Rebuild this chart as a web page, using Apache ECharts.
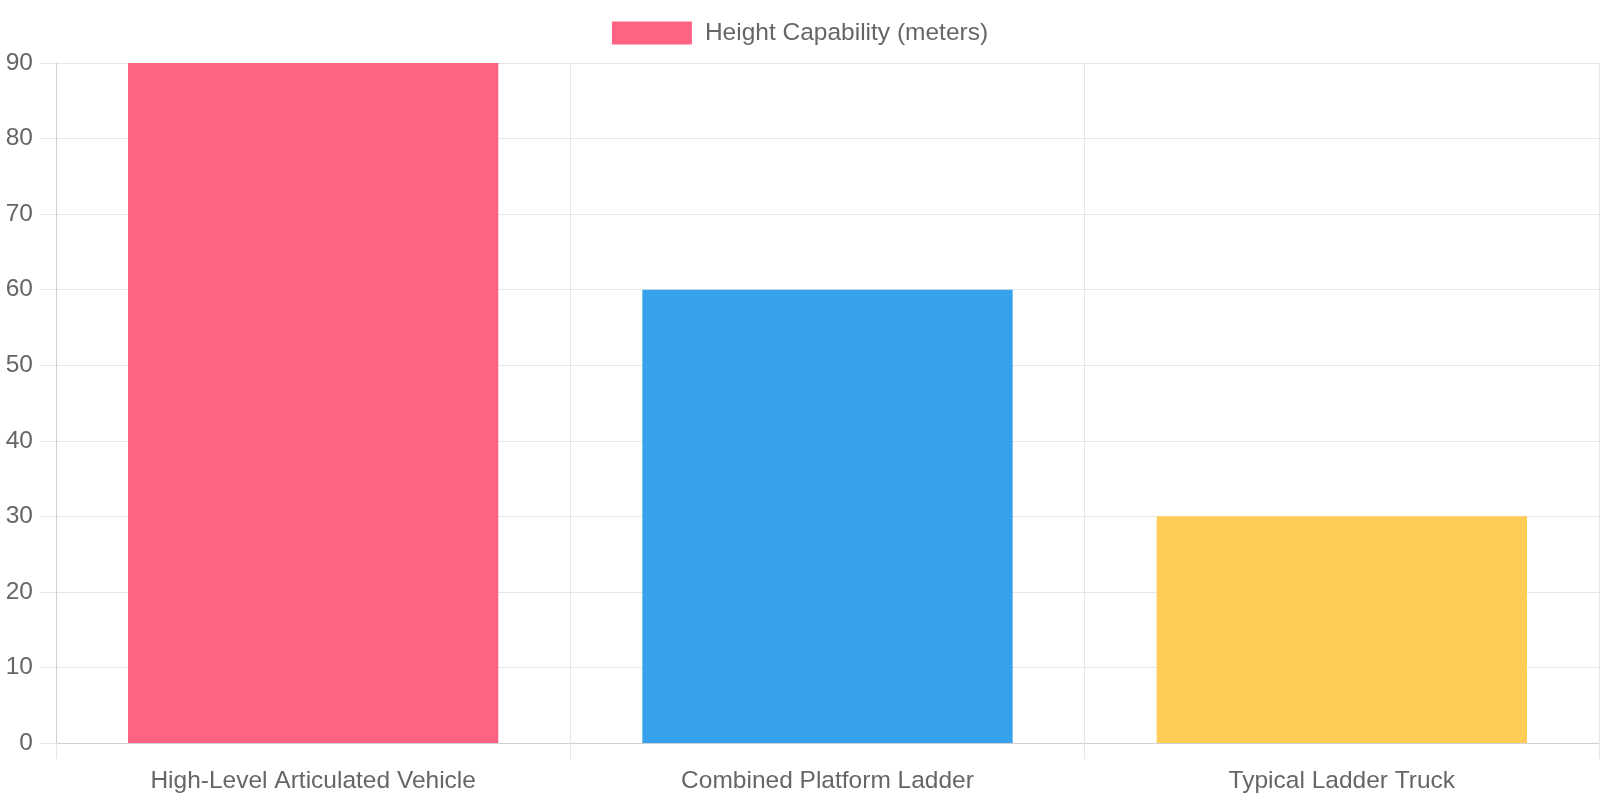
<!DOCTYPE html>
<html>
<head>
<meta charset="utf-8">
<script src="https://cdn.jsdelivr.net/npm/echarts@6/dist/echarts.min.js"></script>
<style>
html,body{margin:0;padding:0;background:#fff;}
#chart{width:1600px;height:800px;}
</style>
</head>
<body>
<div id="chart"></div>
<script>
const categories = ["High-Level Articulated Vehicle", "Combined Platform Ladder", "Typical Ladder Truck"];
const heights = [90, 60, 30];
const barColors = ["#FF6384", "#36A2EB", "#FFCD56"];
const seriesName = "Height Capability (meters)";

const font = "'Liberation Sans', Arial, Helvetica, sans-serif";
const fs = 24.5;
const chart = echarts.init(document.getElementById('chart'));
chart.setOption({
  animation: false,
  backgroundColor: '#ffffff',
  legend: {
    top: 15,
    left: 'center',
    itemWidth: 80,
    itemHeight: 23,
    icon: 'rect',
    textStyle: { fontFamily: font, fontSize: fs, lineHeight: 23, color: '#666666', padding: [3, 0, 0, 8] },
    data: [{ name: seriesName, itemStyle: { color: barColors[0] } }]
  },
  grid: { left: 56, right: 1, top: 63, bottom: 57, containLabel: false },
  xAxis: {
    type: 'category',
    data: categories,
    axisLine: { show: true, lineStyle: { color: '#d0d0d0', width: 1 } },
    axisTick: { show: true, length: 16, lineStyle: { color: '#e6e6e6' } },
    splitLine: { show: true, lineStyle: { color: '#e6e6e6', width: 1 } },
    axisLabel: { fontFamily: font, fontSize: fs, color: '#666666', margin: 26 }
  },
  yAxis: {
    type: 'value',
    min: 0, max: 90, interval: 10,
    axisLine: { show: true, lineStyle: { color: '#d0d0d0', width: 1 } },
    axisTick: { show: true, length: 16, lineStyle: { color: '#e6e6e6' } },
    splitLine: { show: true, lineStyle: { color: '#e6e6e6', width: 1 } },
    axisLabel: { fontFamily: font, fontSize: fs, color: '#666666', margin: 23, padding: [4, 0, 0, 0] }
  },
  series: [{
    name: seriesName,
    type: 'bar',
    barCategoryGap: '28%',
    data: heights.map((v, i) => ({ value: v, itemStyle: { color: barColors[i] } }))
  }]
});
</script>
</body>
</html>
